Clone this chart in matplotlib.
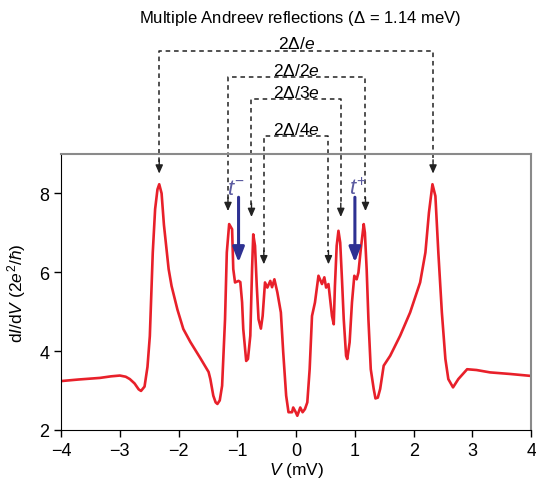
import numpy as np
import matplotlib
matplotlib.use('Agg')
import matplotlib.pyplot as plt

plt.rcParams['font.family'] = ['Liberation Sans', 'DejaVu Sans']
plt.rcParams['mathtext.fontset'] = 'custom'
plt.rcParams['mathtext.rm'] = 'Liberation Sans'
plt.rcParams['mathtext.it'] = 'Liberation Sans:italic'
plt.rcParams['mathtext.sf'] = 'Liberation Sans'

# bias voltage (mV) and differential conductance dI/dV (2e^2/h)
V = [-4.00, -3.70, -3.34, -3.15, -3.00, -2.90, -2.83, -2.75, -2.68, -2.64,
     -2.58, -2.53, -2.49, -2.44, -2.40, -2.36, -2.33, -2.29, -2.25, -2.17,
     -2.12, -2.02, -1.92, -1.80, -1.63, -1.49, -1.46, -1.41, -1.37, -1.34,
     -1.30, -1.26, -1.21, -1.18, -1.14, -1.09, -1.07, -1.04, -0.98, -0.95,
     -0.92, -0.90, -0.85, -0.82, -0.78, -0.75, -0.73, -0.70, -0.67, -0.64,
     -0.60, -0.57, -0.53, -0.49, -0.44, -0.41, -0.37, -0.32, -0.26, -0.22,
     -0.17, -0.13, -0.07, -0.05, -0.01, 0.02, 0.07, 0.11, 0.15, 0.19,
     0.23, 0.27, 0.32, 0.38, 0.44, 0.48, 0.51, 0.55, 0.61, 0.64,
     0.66, 0.69, 0.72, 0.75, 0.78, 0.81, 0.85, 0.87, 0.91, 0.95,
     0.99, 1.03, 1.06, 1.10, 1.15, 1.17, 1.20, 1.23, 1.27, 1.32,
     1.35, 1.39, 1.43, 1.49, 1.60, 1.77, 1.94, 2.11, 2.20, 2.26,
     2.32, 2.37, 2.42, 2.48, 2.54, 2.59, 2.67, 2.76, 2.91, 3.07,
     3.30, 3.64, 4.00]
G = [3.24, 3.28, 3.32, 3.36, 3.38, 3.35, 3.29, 3.18, 3.03, 2.99,
     3.10, 3.60, 4.38, 6.50, 7.60, 8.10, 8.23, 8.00, 7.20, 6.08,
     5.65, 5.05, 4.56, 4.23, 3.82, 3.47, 3.29, 2.87, 2.70, 2.66,
     2.75, 3.12, 4.81, 6.50, 7.22, 7.09, 6.08, 5.74, 5.78, 5.75,
     5.24, 4.56, 3.75, 3.80, 4.39, 6.08, 6.96, 6.67, 5.65, 4.81,
     4.57, 4.89, 5.74, 5.61, 5.78, 5.62, 5.82, 5.49, 4.98, 3.97,
     2.87, 2.45, 2.45, 2.57, 2.46, 2.36, 2.57, 2.45, 2.53, 2.70,
     3.54, 4.89, 5.23, 5.91, 5.70, 5.87, 5.61, 5.70, 4.89, 4.68,
     5.65, 6.67, 7.05, 6.75, 5.82, 4.81, 3.88, 3.80, 4.22, 5.23,
     5.91, 5.82, 5.99, 6.58, 7.22, 7.00, 6.08, 4.81, 3.54, 3.04,
     2.80, 2.82, 3.04, 3.63, 3.88, 4.39, 4.98, 5.74, 6.50, 7.51,
     8.23, 7.93, 6.50, 4.98, 3.80, 3.29, 3.08, 3.29, 3.54, 3.52,
     3.46, 3.42, 3.37]

# MAR brackets: label, left/right x, top of bracket, arrow tip
mar_labels = [r'2$\Delta$/$e$', r'2$\Delta$/2$e$', r'2$\Delta$/3$e$', r'2$\Delta$/4$e$']
mar_left = [-2.33, -1.16, -0.76, -0.55]
mar_right = [2.33, 1.18, 0.76, 0.55]
mar_top = [11.62, 10.95, 10.38, 9.46]
mar_tip = [8.50, 7.55, 7.40, 6.20]

fig = plt.figure(figsize=(5.36, 4.81), dpi=100)
ax = fig.add_axes([0.114, 0.104, 0.877, 0.574])

ax.plot(V, G, color='#e8202a', lw=1.9, solid_joinstyle='round')

ax.set_xlim(-4, 4)
ax.set_ylim(2, 9)
ax.set_xticks(np.arange(-4, 5, 1))
ax.set_yticks([2, 4, 6, 8])
ax.set_xticklabels(['\u22124', '\u22123', '\u22122', '\u22121', '0', '1', '2', '3', '4'])
ax.tick_params(direction='out', length=5, width=1, labelsize=13)
ax.spines['top'].set_color('#8a8a8a')
ax.spines['right'].set_color('#8a8a8a')
ax.spines['top'].set_linewidth(1.5)
ax.spines['right'].set_linewidth(1.5)

ax.set_xlabel(r'$V$ (mV)', fontsize=12.5, labelpad=1)
ax.set_ylabel(r'd$I$/d$V$ (2$e^2$/$\hbar$)', fontsize=12.5, labelpad=8)

for lab, xl, xr, yt, ytip in zip(mar_labels, mar_left, mar_right, mar_top, mar_tip):
    ax.plot([xl, xl, xr, xr], [ytip + 0.3, yt, yt, ytip + 0.3], color='#222222',
            lw=1.1, ls=(0, (3, 2.5)), clip_on=False)
    for xx in (xl, xr):
        ax.annotate('', xy=(xx, ytip), xytext=(xx, ytip + 0.35),
                    arrowprops=dict(arrowstyle='-|>,head_length=0.5,head_width=0.22',
                                    color='#222222', lw=1.0, shrinkA=0, shrinkB=0),
                    annotation_clip=False)
    ax.text(0.0, yt - 0.02, lab, ha='center', va='bottom', fontsize=12.5)

fig.text(0.56, 0.962, r'Multiple Andreev reflections ($\Delta$ = 1.14 meV)',
         ha='center', va='center', fontsize=12)

# tunnelling arrows t- and t+
for xx, lab, lx in [(-0.98, r'$t^{-}$', -1.03), (1.0, r'$t^{+}$', 1.05)]:
    ax.annotate('', xy=(xx, 6.25), xytext=(xx, 7.9),
                arrowprops=dict(arrowstyle='-|>,head_length=0.9,head_width=0.35',
                                color='#2e3192', lw=2.2, shrinkA=0, shrinkB=0))
    ax.text(lx, 8.12, lab, color='#5b5ba0', fontsize=16, ha='center', va='center')

fig.savefig('out.png', dpi=100)
